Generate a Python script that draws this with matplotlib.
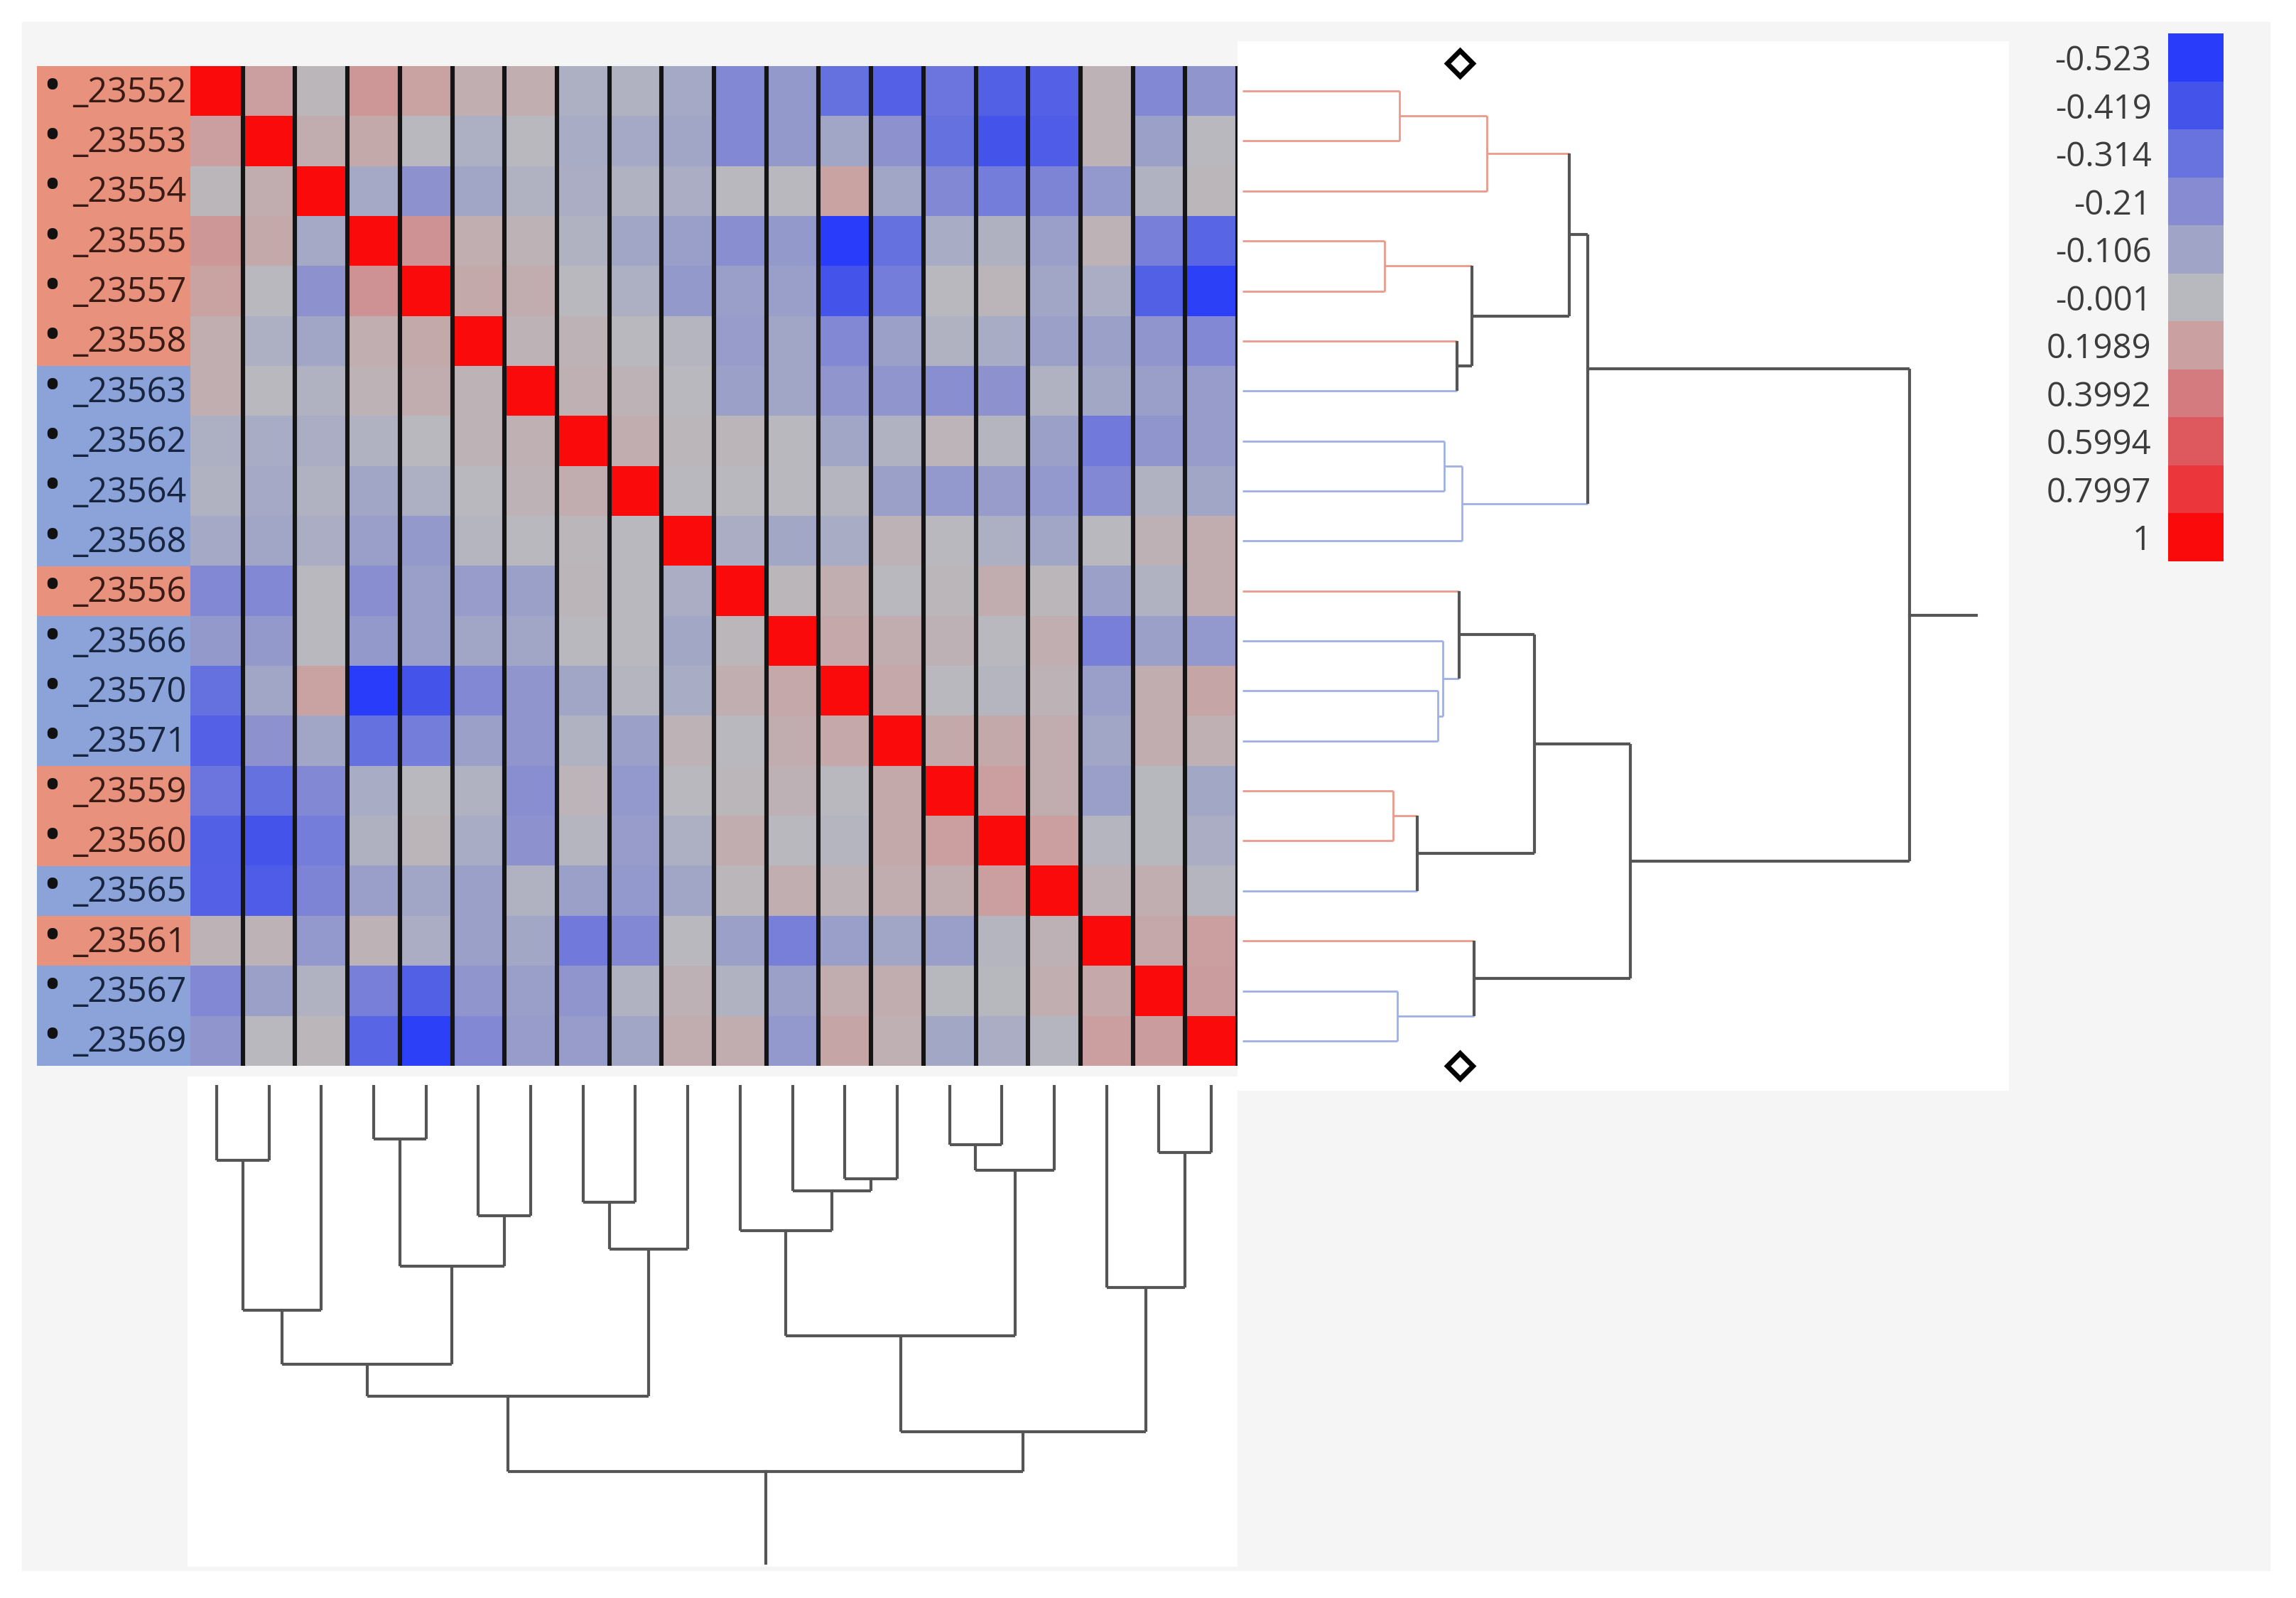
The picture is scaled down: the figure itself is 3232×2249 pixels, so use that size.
import numpy as np
import matplotlib
matplotlib.use('Agg')
import matplotlib.pyplot as plt
from matplotlib.colors import LinearSegmentedColormap, Normalize
from matplotlib.patches import Rectangle

W, H = 3232, 2249

labels = ['_23552', '_23553', '_23554', '_23555', '_23557', '_23558', '_23563', '_23562', '_23564', '_23568',
          '_23556', '_23566', '_23570', '_23571', '_23559', '_23560', '_23565', '_23561', '_23567', '_23569']
groups = ['r', 'r', 'r', 'r', 'r', 'r', 'b', 'b', 'b', 'b',
          'r', 'b', 'b', 'b', 'r', 'r', 'b', 'r', 'b', 'b']

# upper triangle of the correlation matrix, row i holds columns i+1..19
upper = [
    [0.20, 0.02, 0.25, 0.18, 0.08, 0.08, -0.05, -0.03, -0.08, -0.22, -0.15, -0.32, -0.37, -0.30, -0.38, -0.37, 0.05, -0.22, -0.17],
    [0.10, 0.12, 0.00, -0.05, 0.00, -0.07, -0.08, -0.10, -0.22, -0.15, -0.10, -0.18, -0.32, -0.42, -0.39, 0.05, -0.12, 0.00],
    [-0.08, -0.18, -0.10, -0.03, -0.06, -0.03, -0.06, 0.00, 0.00, 0.18, -0.10, -0.22, -0.27, -0.24, -0.16, -0.03, 0.02],
    [0.27, 0.08, 0.05, -0.03, -0.10, -0.13, -0.20, -0.15, -0.52, -0.32, -0.07, -0.04, -0.13, 0.05, -0.26, -0.36],
    [0.12, 0.10, 0.00, -0.05, -0.15, -0.13, -0.13, -0.42, -0.27, 0.00, 0.03, -0.10, -0.06, -0.38, -0.50],
    [0.05, 0.05, 0.00, -0.02, -0.14, -0.10, -0.22, -0.12, -0.03, -0.07, -0.12, -0.12, -0.17, -0.22],
    [0.07, 0.05, 0.00, -0.12, -0.10, -0.17, -0.17, -0.20, -0.18, -0.03, -0.09, -0.13, -0.14],
    [0.10, 0.02, 0.03, 0.00, -0.10, -0.03, 0.04, -0.02, -0.12, -0.28, -0.17, -0.14],
    [0.00, 0.00, 0.00, -0.02, -0.12, -0.16, -0.14, -0.16, -0.22, -0.03, -0.10],
    [-0.06, -0.09, -0.07, 0.05, 0.00, -0.05, -0.10, 0.00, 0.06, 0.10],
    [0.02, 0.08, 0.00, 0.02, 0.10, 0.02, -0.12, -0.03, 0.10],
    [0.13, 0.10, 0.06, 0.00, 0.08, -0.26, -0.12, -0.16],
    [0.13, 0.00, -0.02, 0.05, -0.13, 0.10, 0.15],
    [0.12, 0.12, 0.10, -0.10, 0.10, 0.07],
    [0.20, 0.10, -0.13, -0.01, -0.09],
    [0.20, -0.02, -0.01, -0.06],
    [0.06, 0.08, -0.02],
    [0.13, 0.20],
    [0.22],
]

legend_values = [-0.523, -0.419, -0.314, -0.21, -0.106, -0.001, 0.1989, 0.3992, 0.5994, 0.7997, 1]
legend_labels = ['-0.523', '-0.419', '-0.314', '-0.21', '-0.106', '-0.001', '0.1989', '0.3992', '0.5994', '0.7997', '1']
legend_colors = ['#283cfa', '#4555eb', '#6973e0', '#878cd2', '#a0a5c8', '#b9b9be',
                 '#cba0a0', '#d47c80', '#dd595d', '#eb373c', '#fa0a0a']

# cluster joins (leaf ids 0..19, new clusters numbered 20, 21, ...)
merges = [(0, 1), (20, 2), (3, 4), (5, 6), (22, 23), (21, 24), (7, 8), (26, 9), (25, 27),
          (12, 13), (11, 29), (10, 30), (14, 15), (32, 16), (31, 33), (18, 19), (17, 35),
          (34, 36), (28, 37)]
row_heights = [0.235, 0.366, 0.213, 0.322, 0.344, 0.490, 0.302, 0.329, 0.518, 0.293,
               0.300, 0.325, 0.226, 0.262, 0.438, 0.232, 0.347, 0.581, 1.0]
col_heights = [0.195, 0.583, 0.140, 0.338, 0.469, 0.722, 0.303, 0.425, 0.805, 0.243,
               0.274, 0.377, 0.154, 0.221, 0.649, 0.175, 0.524, 0.897, 1.0]

n = len(labels)
corr = np.eye(n)
for i, row in enumerate(upper):
    corr[i, i + 1:] = row
    corr[i + 1:, i] = row

vmin, vmax = legend_values[0], legend_values[-1]
cmap = LinearSegmentedColormap.from_list(
    'jmp', [((v - vmin) / (vmax - vmin), c) for v, c in zip(legend_values, legend_colors)])
norm = Normalize(vmin, vmax)

band = {'r': '#e8927e', 'b': '#8ca3da'}
text_col = {'r': '#3a1a14', 'b': '#16243f'}
link_col = {'r': '#e99a8c', 'b': '#9fb0e2', 'm': '#555555'}
link_lw = {'r': 2.0, 'b': 2.0, 'm': 3.0}

plt.rcParams['font.family'] = ['Open Sans', 'DejaVu Sans']


def px_axes(fig, x0, y0, x1, y1):
    ax = fig.add_axes([x0 / W, 1 - y1 / H, (x1 - x0) / W, (y1 - y0) / H])
    for s in ax.spines.values():
        s.set_visible(False)
    ax.set_xticks([])
    ax.set_yticks([])
    return ax


def dendro(heights):
    pos = {i: float(i) for i in range(n)}
    hgt = {i: 0.0 for i in range(n)}
    grp = {i: groups[i] for i in range(n)}
    segs = []
    for k, ((a, b), h) in enumerate(zip(merges, heights)):
        c = n + k
        grp[c] = grp[a] if grp[a] == grp[b] else 'm'
        for child in (a, b):
            segs.append((pos[child], hgt[child], pos[child], h, grp[child]))
        segs.append((pos[a], h, pos[b], h, grp[c]))
        pos[c] = (pos[a] + pos[b]) / 2
        hgt[c] = h
    root = n + len(merges) - 1
    return segs, pos[root], hgt[root]


fig = plt.figure(figsize=(W / 100, H / 100), dpi=100, facecolor='white')
fig.patches.append(Rectangle((31 / W, 1 - 2210 / H), 3164 / W, 2179 / H,
                             transform=fig.transFigure, color='#f5f5f5', zorder=-10))

# heatmap
ax = px_axes(fig, 268, 93, 1742, 1500)
ax.imshow(corr, cmap=cmap, norm=norm, aspect='auto', interpolation='nearest')
for xb in np.arange(0.5, n, 1.0):
    ax.axvline(xb, color='#141414', lw=4.4)
ax.set_xlim(-0.5, n - 0.5)
ax.set_ylim(n - 0.5, -0.5)

# row labels
axl = px_axes(fig, 52, 93, 268, 1500)
axl.barh(np.arange(n), 1, height=1, left=0, color=[band[g] for g in groups])
axl.set_xlim(0, 1)
axl.set_ylim(n - 0.5, -0.5)
for i, (lab, g) in enumerate(zip(labels, groups)):
    axl.text(0.1, i - 0.05, '\u2022', ha='center', va='center', fontsize=50, color='#111111')
    axl.text(0.975, i + 0.04, lab, ha='right', va='center', fontsize=35, color=text_col[g])

# right dendrogram
axr = px_axes(fig, 1742, 58, 2828, 1535)
axr.set_facecolor('white')
segs, rpos, rh = dendro(row_heights)
for p0, h0, p1, h1, g in segs:
    axr.plot([h0, h1], [p0, p1], color=link_col[g], lw=link_lw[g], solid_capstyle='butt')
axr.plot([rh, rh * 1.1], [rpos, rpos], color=link_col['m'], lw=link_lw['m'])
axr.set_xlim(-0.0075, 1.149)
axr.set_ylim(n - 0.5 + 0.497, -0.997)
axr.plot([0.288, 0.288], [0.979, 0.0237], 'D', transform=axr.transAxes, ms=18,
         mfc='white', mec='black', mew=5, clip_on=False)

# bottom dendrogram
axb = px_axes(fig, 264, 1515, 1742, 2205)
axb.set_facecolor('white')
segs, cpos, ch = dendro(col_heights)
for p0, h0, p1, h1, g in segs:
    axb.plot([p0, p1], [h0, h1], color='#555555', lw=3.0, solid_capstyle='butt')
axb.plot([cpos, cpos], [ch, ch * 1.237], color='#555555', lw=3.0)
axb.set_xlim(-0.554, n - 0.5)
axb.set_ylim(1.246, -0.022)

# legend colour bar
axc = px_axes(fig, 3052, 47, 3130, 790)
axc.pcolormesh(np.array(legend_values)[:, None], cmap=cmap, norm=norm)
axc.set_ylim(len(legend_values), 0)
axc.set_yticks(np.arange(len(legend_values)) + 0.5)
axc.set_yticklabels(legend_labels, fontsize=34, color='#3c3c3c')
axc.tick_params(axis='y', length=0, pad=17)

fig.savefig('out.png', dpi=100, facecolor='white')
